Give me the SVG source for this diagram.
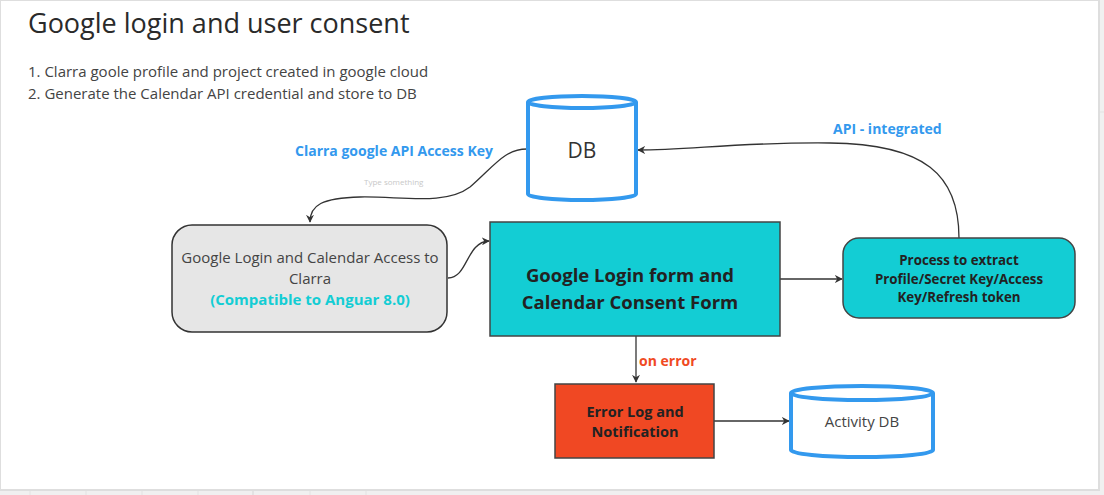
<svg xmlns="http://www.w3.org/2000/svg" width="1104" height="495" viewBox="0 0 1104 495">
<defs>
<marker id="arr" viewBox="0 0 10 10" refX="9" refY="5" markerWidth="8" markerHeight="8" markerUnits="userSpaceOnUse" orient="auto">
<path d="M0,0 L10,5 L0,10 L3,5 Z" fill="#333"/>
</marker>
</defs>
<style>
text{font-family:"Open Sans","Liberation Sans",sans-serif;fill:#333}
.b{font-weight:bold}
.c{text-anchor:middle}
.conn{fill:none;stroke:#333;stroke-width:1.3}
.cyl{fill:#fff;stroke:#3399ee;stroke-width:4}
.teal{fill:#13cdd4;stroke:#444;stroke-width:1.5}
.grid{stroke:#e2e2e2;stroke-width:1}
</style>
<rect x="0" y="0" width="1104" height="495" fill="#f0f0f0"/>
<g class="grid">
<line x1="30" y1="491" x2="30" y2="495"/><line x1="86" y1="491" x2="86" y2="495"/><line x1="142" y1="491" x2="142" y2="495"/><line x1="198" y1="491" x2="198" y2="495"/><line x1="253" y1="491" x2="253" y2="495" stroke="#d6d6d6"/><line x1="310" y1="491" x2="310" y2="495"/><line x1="366" y1="491" x2="366" y2="495"/><line x1="1100" y1="112" x2="1104" y2="112"/>
</g>
<rect x="0" y="0" width="1099" height="490" fill="#fff" stroke="#dedede" stroke-width="2"/>

<g id="title">
<text x="28" y="33" font-size="27" style="fill:#2a2a2a">Google login and user consent</text>
<text x="28" y="77" font-size="15" style="fill:#444">1. Clarra goole profile and project created in google cloud</text>
<text x="28" y="99" font-size="15" style="fill:#444">2. Generate the Calendar API credential and store to DB</text>
</g>

<g id="connectors">
<path class="conn" d="M527,149 C505,149 495,165 470,187 C445,206 400,196 360,197 C322,198 310,205 310,222" marker-end="url(#arr)"/>
<path class="conn" d="M448,278 C468,278 466,242 489,241" marker-end="url(#arr)"/>
<path class="conn" d="M780,279 L842,279" marker-end="url(#arr)"/>
<path class="conn" d="M959,238 C959,175 925,144 830,143 C740,142 690,150 638,150" marker-end="url(#arr)"/>
<path class="conn" d="M636,336 L636,382" marker-end="url(#arr)"/>
<path class="conn" d="M714,421 L789,421" marker-end="url(#arr)"/>
<text class="b" x="295" y="156" font-size="14" style="fill:#3399ee">Clarra google API Access Key</text>
<text x="364" y="185" font-size="8" style="fill:#c8c8c8">Type something</text>
<text class="b" x="833" y="134" font-size="14" style="fill:#3399ee">API - integrated</text>
<text class="b" x="639" y="366" font-size="14" style="fill:#f04a23">on error</text>
</g>

<g id="db">
<path class="cyl" d="M528,102 L528,194 A54,6 0 0 0 636,194 L636,102"/>
<ellipse class="cyl" cx="582" cy="102" rx="54" ry="6"/>
<text class="c" x="582" y="158" font-size="21">DB</text>
</g>

<g id="google-login-access">
<rect x="172" y="225" width="275" height="107" rx="20" ry="20" fill="#e6e6e6" stroke="#333" stroke-width="1.5"/>
<text class="c" x="310" y="263" font-size="15" style="fill:#444">Google Login and Calendar Access to</text>
<text class="c" x="310" y="284" font-size="15" style="fill:#444">Clarra</text>
<text class="c b" x="310" y="305" font-size="15" style="fill:#13cdd4">(Compatible to Anguar 8.0)</text>
</g>

<g id="consent-form">
<rect class="teal" x="490" y="222" width="290" height="114"/>
<text class="c b" x="630" y="282" font-size="18.5" style="fill:#222">Google Login form and</text>
<text class="c b" x="630" y="309" font-size="18.5" style="fill:#222">Calendar Consent Form</text>
</g>

<g id="process-extract">
<rect class="teal" x="843" y="238" width="232" height="80" rx="16" ry="16"/>
<text class="c b" x="959" y="265" font-size="13.3" style="fill:#222">Process to extract</text>
<text class="c b" x="959" y="284" font-size="13.3" style="fill:#222">Profile/Secret Key/Access</text>
<text class="c b" x="959" y="302" font-size="13.3" style="fill:#222">Key/Refresh token</text>
</g>

<g id="error-log">
<rect x="555" y="384" width="159" height="74" fill="#f04823" stroke="#444" stroke-width="1.5"/>
<text class="c b" x="635" y="417" font-size="14.5" style="fill:#222">Error Log and</text>
<text class="c b" x="635" y="437" font-size="14.5" style="fill:#222">Notification</text>
</g>

<g id="activity-db">
<path class="cyl" d="M791,393 L791,450 A71,7 0 0 0 933,450 L933,393"/>
<ellipse class="cyl" cx="862" cy="393" rx="71" ry="7"/>
<text class="c" x="862" y="427" font-size="15" style="fill:#444">Activity DB</text>
</g>
</svg>
